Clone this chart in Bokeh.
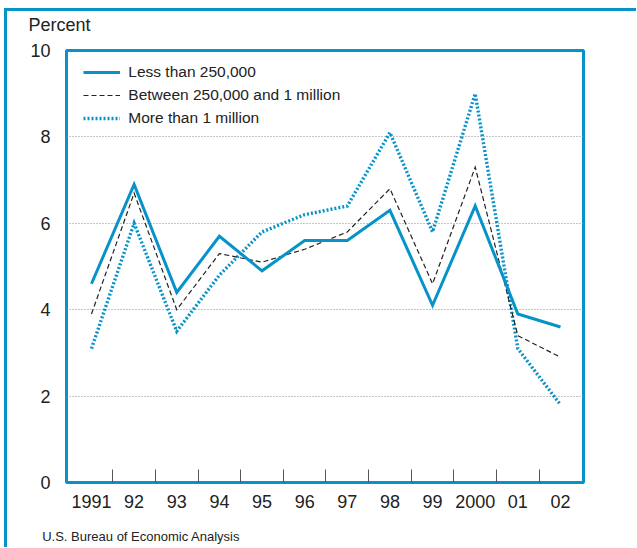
from bokeh.plotting import figure
from bokeh.models import Range1d, FixedTicker, Legend, LegendItem
from bokeh.layouts import column
from bokeh.core.properties import value
from bokeh.embed import file_html
from bokeh.resources import INLINE

# ---- data ----
years = ["1991", "92", "93", "94", "95", "96", "97", "98", "99", "2000", "01", "02"]
less_than_250k = [4.6, 6.9, 4.4, 5.7, 4.9, 5.6, 5.6, 6.3, 4.1, 6.4, 3.9, 3.6]
between_250k_1m = [3.9, 6.7, 4.0, 5.3, 5.1, 5.4, 5.8, 6.8, 4.6, 7.3, 3.4, 2.9]
more_than_1m = [3.1, 6.0, 3.5, 4.8, 5.8, 6.2, 6.4, 8.1, 5.8, 9.0, 3.1, 1.8]
y_ticks = [0, 2, 4, 6, 8, 10]
series_names = ["Less than 250,000", "Between 250,000 and 1 million", "More than 1 million"]
y_title = "Percent"
source_note = "U.S. Bureau of Economic Analysis"

BLUE = "#0793c9"
INK = "#222222"
FONT = "Liberation Sans"
W = 629
HEAD_H, MAIN_H, FOOT_H = 27, 482, 27

x = list(range(len(years)))


def text_strip(height, txt, tx, ty, size):
    f = figure(width=W, height=height, output_backend="svg", toolbar_location=None,
               x_range=Range1d(0, W), y_range=Range1d(0, height),
               x_axis_type=None, y_axis_type=None, frame_align=False,
               min_border_left=0, min_border_right=0, min_border_top=0, min_border_bottom=0,
               background_fill_color="white", border_fill_color="white")
    f.outline_line_color = None
    f.xgrid.visible = False
    f.ygrid.visible = False
    f.text(x=[tx], y=[ty], text=[txt], text_font=value(FONT), text_font_size=value(size),
           text_color=INK, text_baseline="alphabetic", text_align="left")
    return f


head = text_strip(HEAD_H, y_title, 21, 14, "18px")
foot = text_strip(FOOT_H, source_note, 34.7, 11.5, "13px")

p = figure(
    width=W, height=MAIN_H,
    output_backend="svg", toolbar_location=None, frame_align=False,
    x_range=Range1d(-0.586, 11.54), y_range=Range1d(0, 10),
    min_border_left=59, min_border_right=53, min_border_top=12, min_border_bottom=38,
    background_fill_color="white", border_fill_color="white",
)

p.outline_line_color = BLUE
p.outline_line_width = 3
p.outline_line_alpha = 1.0

# x axis
p.xaxis.ticker = FixedTicker(ticks=x, minor_ticks=[i + 0.5 for i in range(len(years) - 1)])
p.xaxis.major_label_overrides = {i: years[i] for i in x}
p.xaxis.major_tick_line_color = None
p.xaxis.major_tick_in = 0
p.xaxis.major_tick_out = 0
p.xaxis.minor_tick_in = 13
p.xaxis.minor_tick_out = 0
p.xaxis.minor_tick_line_color = "#555555"
p.xaxis.minor_tick_line_width = 1
p.xaxis.axis_line_color = None
p.xaxis.major_label_standoff = 12
p.xaxis.major_label_text_font_size = "18px"
p.xaxis.major_label_text_font = FONT
p.xaxis.major_label_text_color = INK

# y axis
p.yaxis.ticker = FixedTicker(ticks=y_ticks, minor_ticks=[])
p.yaxis.major_tick_line_color = None
p.yaxis.major_tick_in = 0
p.yaxis.major_tick_out = 0
p.yaxis.minor_tick_line_color = None
p.yaxis.axis_line_color = None
p.yaxis.major_label_standoff = 16
p.yaxis.major_label_text_font_size = "18px"
p.yaxis.major_label_text_font = FONT
p.yaxis.major_label_text_color = INK

p.xgrid.visible = False
p.ygrid.grid_line_color = "#8a8a8a"
p.ygrid.grid_line_dash = "1 2"
p.ygrid.grid_line_width = 1

r_more = p.line(x, more_than_1m, line_color=BLUE, line_width=3.4, line_dash="2 2", line_join="miter")
r_between = p.line(x, between_250k_1m, line_color=INK, line_width=1.2, line_dash="5 3", line_join="miter")
r_less = p.line(x, less_than_250k, line_color=BLUE, line_width=3, line_join="miter")

legend = Legend(
    items=[
        LegendItem(label=series_names[0], renderers=[r_less]),
        LegendItem(label=series_names[1], renderers=[r_between]),
        LegendItem(label=series_names[2], renderers=[r_more]),
    ],
    location=(17.3, 354.5),
    margin=0, padding=7,
    glyph_width=37, glyph_height=20, label_height=20,
    spacing=3, label_standoff=8,
    background_fill_alpha=0, border_line_color=None,
    label_text_font_size="15.5px", label_text_font=FONT, label_text_color=INK,
)
p.add_layout(legend)

page = column(head, p, foot, spacing=0)
page.styles = {
    "border-top": f"3px solid {BLUE}",
    "border-left": f"3px solid {BLUE}",
    "position": "relative",
    "left": "4px",
    "top": "8px",
}

open("out.html", "w").write(file_html(page, INLINE))
